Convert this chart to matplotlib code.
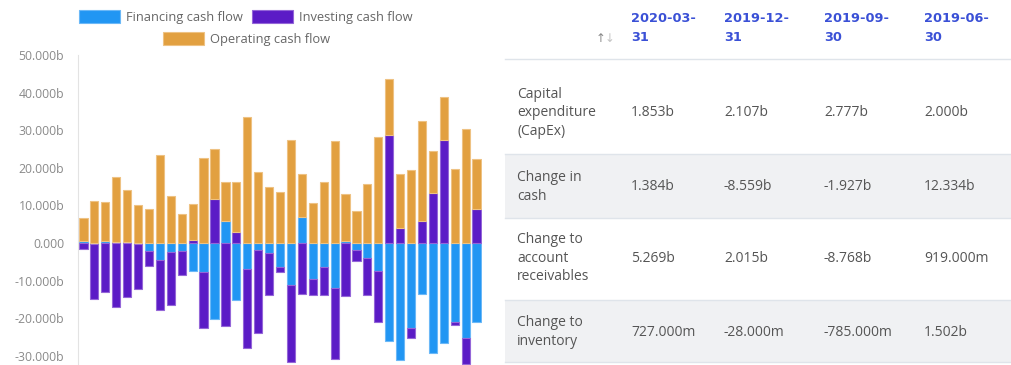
import numpy as np
import matplotlib
matplotlib.use("Agg")
import matplotlib.pyplot as plt
from matplotlib.patches import Rectangle

W, H = 1012, 365

# cash flow series (billions), oldest -> newest
financing = [0.5, -0.2, 0.5, 0.3, 0.3, -0.2, -2.0, -4.5, -2.3, -2.1,
             -7.4, -7.7, -20.3, 5.9, -15.2, -6.9, -1.8, -2.7, -6.3, -11.3,
             6.9, -9.5, -6.5, -12.0, 0.5, -1.8, -4.0, -7.4, -26.1, -31.2,
             -22.5, -13.6, -29.3, -26.6, -20.9, -25.2, -20.9]
investing = [-1.5, -14.7, -13.1, -17.0, -14.4, -12.1, -4.2, -13.4, -14.2, -6.5,
             0.7, -15.0, 11.7, -22.0, 2.9, -21.0, -22.2, -11.2, -1.3, -20.4,
             -13.6, -4.4, -7.2, -18.9, -14.2, -3.1, -9.9, -13.5, 28.6, 4.0,
             -2.9, 5.8, 13.3, 27.3, -0.8, -6.9, 9.0]
operating = [6.2, 11.1, 10.3, 17.2, 13.9, 10.1, 9.0, 23.3, 12.5, 7.8,
             9.8, 22.6, 13.4, 10.2, 13.2, 33.5, 18.9, 14.9, 13.5, 27.3,
             11.4, 10.6, 16.1, 27.0, 12.4, 8.4, 15.7, 28.1, 14.9, 14.3,
             19.4, 26.6, 11.1, 11.6, 19.8, 30.3, 13.3]
y_ticks = [-30, -20, -10, 0, 10, 20, 30, 40, 50]

# table content
dates = ["2020-03-\n31", "2019-12-\n31", "2019-09-\n30", "2019-06-\n30"]
row_labels = ["Capital\nexpenditure\n(CapEx)", "Change in\ncash",
              "Change to\naccount\nreceivables", "Change to\ninventory"]
table_values = [
    ["1.853b", "2.107b", "2.777b", "2.000b"],
    ["1.384b", "-8.559b", "-1.927b", "12.334b"],
    ["5.269b", "2.015b", "-8.768b", "919.000m"],
    ["727.000m", "-28.000m", "-785.000m", "1.502b"],
]

FIN_C, INV_C, OP_C = "#2196f3", "#5b1bc6", "#e2a040"
FIN_E, INV_E, OP_E = "#6bb8f7", "#9466d8", "#eec283"

plt.rcParams["font.family"] = ["Open Sans", "DejaVu Sans"]

fig = plt.figure(figsize=(W / 100, H / 100), dpi=100)


def fx(px):
    return px / W


def fy(py):
    return 1 - py / H


# ---- bar chart
ax_l, ax_r, ax_t = 78, 482, 55
ax = fig.add_axes([fx(ax_l), 0, fx(ax_r - ax_l), fy(ax_t)])
x = np.arange(len(operating))
pos = np.zeros(len(x))
neg = np.zeros(len(x))
for vals, c, e in [(financing, FIN_C, FIN_E), (investing, INV_C, INV_E),
                   (operating, OP_C, OP_E)]:
    v = np.array(vals)
    base = np.where(v >= 0, pos, neg)
    ax.bar(x, v, bottom=base, width=0.75, color=c, edgecolor=e, linewidth=0.8)
    pos = pos + np.where(v >= 0, v, 0)
    neg = neg + np.where(v < 0, v, 0)

ax.set_xlim(-0.5, len(x) - 0.5)
ax.set_ylim(-32.45, 50)
ax.set_yticks(y_ticks)
ax.set_yticklabels(["%.3fb" % t if t != 0 else "0.000" for t in y_ticks])
ax.tick_params(axis="y", length=0, pad=10, labelsize=8.8, labelcolor="#8a8a8a")
ax.tick_params(axis="x", bottom=False, labelbottom=False)
for s in ["top", "right", "bottom"]:
    ax.spines[s].set_visible(False)
ax.spines["left"].set_color("#e3e3e3")

# ---- legend
legend_items = [("Financing cash flow", FIN_C, FIN_E, 79, 17),
                ("Investing cash flow", INV_C, INV_E, 252, 17),
                ("Operating cash flow", OP_C, OP_E, 163, 39)]
for label, c, e, px, py in legend_items:
    fig.patches.append(Rectangle((fx(px), fy(py + 6)), fx(41), 13 / H,
                                 transform=fig.transFigure, facecolor=c,
                                 edgecolor=e, linewidth=0.8))
    fig.text(fx(px + 47), fy(py), label, fontsize=9.3, color="#666666",
             va="center", ha="left")

# ---- table
rows_y = [(59, 154), (154, 218), (218, 300), (300, 362)]
text_mid = [113, 187, 258, 332]
tab_l = 505
col_x = [631, 724, 824, 924]
text_c = "#555555"
line_c = "#dfe4ea"

fig.text(fx(596), fy(39), "\u2191", fontsize=8.5, color="#888888",
         va="center", ha="left", family="DejaVu Sans")
fig.text(fx(605), fy(39), "\u2193", fontsize=8.5, color="#c4c4c4",
         va="center", ha="left", family="DejaVu Sans")
for cx, d in zip(col_x, dates):
    fig.text(fx(cx), fy(28), d, fontsize=9.3, color="#3a50d6",
             fontweight="bold", va="center", ha="left", linespacing=1.55,
             family="DejaVu Sans")

fig.lines.append(plt.Line2D([fx(tab_l), 1], [fy(59), fy(59)],
                            transform=fig.transFigure, color=line_c, lw=1))
for i, ((t, b), mid, lab, vals) in enumerate(zip(rows_y, text_mid,
                                                 row_labels, table_values)):
    if i % 2 == 1:
        fig.patches.append(Rectangle((fx(tab_l), fy(b)), 1 - fx(tab_l),
                                     (b - t) / H, transform=fig.transFigure,
                                     facecolor="#f0f1f3", edgecolor="none"))
    fig.lines.append(plt.Line2D([fx(tab_l), 1], [fy(b), fy(b)],
                                transform=fig.transFigure, color=line_c, lw=1))
    fig.text(fx(517), fy(mid), lab, fontsize=10, color=text_c,
             va="center", ha="left", linespacing=1.33)
    for cx, v in zip(col_x, vals):
        fig.text(fx(cx), fy(mid), v, fontsize=10, color=text_c,
                 va="center", ha="left")

fig.savefig("out.png", dpi=100)
